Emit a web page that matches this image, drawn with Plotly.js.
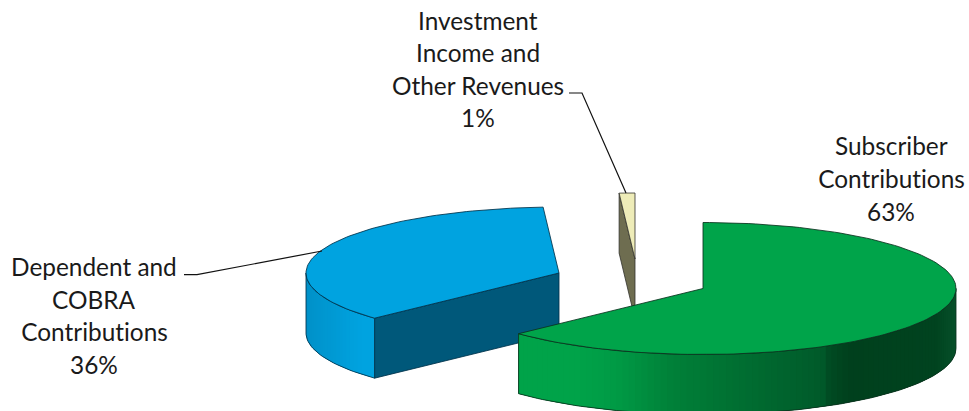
<!DOCTYPE html>
<html>
<head>
<meta charset="utf-8">
<script src="https://cdn.plot.ly/plotly-3.0.1.min.js"></script>
<style>html,body{margin:0;padding:0;background:#fff;overflow:hidden}#chart{width:969px;height:411px}
#chart text{font-variant-ligatures:none;font-feature-settings:"liga" 0}</style>
</head>
<body>
<div id="chart"></div>
<script>
// Revenue shares, clockwise from twelve o'clock
const categories = ['Subscriber Contributions', 'Dependent and COBRA Contributions', 'Investment Income and Other Revenues'];
const shares = [63, 36, 1];

// Wrapped label lines for each category
const labelLines = [
  ['Subscriber', 'Contributions'],
  ['Dependent and', 'COBRA', 'Contributions'],
  ['Investment', 'Income and', 'Other Revenues']
];

// Projected disc: radii of the ellipse and the height of the extruded wall
const RX = 253, RY = 66, DEPTH = 60;

// Where each exploded wedge is placed, and how it is painted
const wedgeStyle = [
  { cx: 703, cy: 288.5, top: '#00a44a', face: '#00522a', edge: 'rgba(10,50,30,0.85)',
    wall: [[-1, '#00a44a'], [-0.5, '#00a349'], [-0.34, '#009a45'], [-0.12, '#008038'], [0.12, '#007032'],
           [0.47, '#005a2a'], [0.5, '#004a22'], [0.58, '#00401d'], [0.92, '#00431f'], [1, '#07502a']] },
  { cx: 559, cy: 273, top: '#00a3e0', face: '#00587a', edge: 'rgba(0,50,75,0.85)',
    wall: [[-1, '#0091c8'], [-0.78, '#00a3e0'], [1, '#00a3e0']] },
  { cx: 635, cy: 259, top: '#eeecb8', face: '#6e6d50', edge: 'rgba(50,50,45,0.8)',
    wall: [[-1, '#eeecb8'], [1, '#6e6d50']] }
];

// Label placement and leader lines
const labelPlacement = [
  { x: 891, ys: [145, 178], pctY: 211, leader: null },
  { x: 94, ys: [266, 299, 331], pctY: 364, leader: [[184, 274.7], [197, 274.7], [322, 251]] },
  { x: 478, ys: [20, 52, 85], pctY: 117, leader: [[569, 93], [582, 93], [626, 193]] }
];
const LABEL_FONT = { family: 'Lato, sans-serif', size: 24.4, color: '#1a1a1a' };

const rad = d => d * Math.PI / 180;
const pt = (s, a, dz) => [s.cx + RX * Math.sin(rad(a)), s.cy - RY * Math.cos(rad(a)) + (dz || 0)];

function hex(c) { return [1, 3, 5].map(i => parseInt(c.substr(i, 2), 16)); }
function wallColor(stops, t) {
  for (let i = 1; i < stops.length; i++) {
    if (t <= stops[i][0]) {
      const f = (t - stops[i - 1][0]) / (stops[i][0] - stops[i - 1][0]);
      const a = hex(stops[i - 1][1]), b = hex(stops[i][1]);
      return 'rgb(' + a.map((v, k) => Math.round(v + (b[k] - v) * f)).join(',') + ')';
    }
  }
  return stops[stops.length - 1][1];
}
function poly(points, opts) {
  return Object.assign({
    x: points.map(p => p[0]), y: points.map(p => p[1]),
    type: 'scatter', mode: 'lines', hoverinfo: 'skip', showlegend: false
  }, opts);
}
function filled(points, color, lineColor, width) {
  return poly(points.concat([points[0]]), {
    fill: 'toself', fillcolor: color, line: { color: lineColor, width: width }
  });
}
function arc(s, a0, a1, dz) {
  const n = Math.max(2, Math.ceil(Math.abs(a1 - a0) / 1.5));
  const out = [];
  for (let i = 0; i <= n; i++) out.push(pt(s, a0 + (a1 - a0) * i / n, dz));
  return out;
}

// One wedge: visible cut face, shaded outer wall, then the top face
function wedgeTraces(s, a0, a1) {
  const traces = [];
  const apex = [s.cx, s.cy], apexLow = [s.cx, s.cy + DEPTH];
  if (Math.sin(rad(a0)) < -1e-6) {
    traces.push(filled([apex, pt(s, a0), pt(s, a0, DEPTH), apexLow], s.face, s.edge, 1));
  }
  const w0 = Math.max(a0, 90), w1 = Math.min(a1, 270);
  if (w1 > w0) {
    // Shading bands; each one runs under the next two so no seams show between them
    const n = Math.ceil((w1 - w0) / 1.5);
    const step = (w1 - w0) / n;
    for (let i = 0; i < n; i++) {
      const b0 = w0 + step * i;
      const end = Math.min(w1, b0 + step * 3);
      const c = wallColor(s.wall, Math.sin(rad(b0 + step / 2)));
      const lower = arc(s, b0, end, DEPTH).reverse();
      traces.push(filled(arc(s, b0, end, 0).concat(lower), c, c, 0));
    }
    const outline = arc(s, w0, w1, DEPTH).concat(arc(s, w1, w0, 0));
    traces.push(poly(outline.concat([outline[0]]), { line: { color: s.edge, width: 1 } }));
  }
  traces.push(filled([apex].concat(arc(s, a0, a1, 0)), s.top, s.edge, 1));
  return traces;
}

const total = shares.reduce((a, b) => a + b, 0);
let angle = 0;
const spans = shares.map(v => { const a = [angle, angle + v / total * 360]; angle = a[1]; return a; });

// Back-to-front paint order: the smallest wedge first, the largest last
const traces = [];
[2, 1, 0].forEach(i => traces.push(...wedgeTraces(wedgeStyle[i], spans[i][0], spans[i][1])));

const annotations = [];
labelPlacement.forEach((p, i) => {
  labelLines[i].forEach((line, k) => annotations.push({
    x: p.x, y: p.ys[k], text: line, showarrow: false, xanchor: 'center', yanchor: 'middle', font: LABEL_FONT
  }));
  annotations.push({
    x: p.x, y: p.pctY, text: shares[i] + '%', showarrow: false, xanchor: 'center', yanchor: 'middle', font: LABEL_FONT
  });
  if (p.leader) traces.push(poly(p.leader, { line: { color: '#111', width: 1.2 } }));
});

Plotly.newPlot('chart', traces, {
  width: 969, height: 411,
  margin: { l: 0, r: 0, t: 0, b: 0 },
  paper_bgcolor: '#fff', plot_bgcolor: '#fff',
  xaxis: { range: [0, 969], visible: false, fixedrange: true },
  yaxis: { range: [411, 0], visible: false, fixedrange: true },
  showlegend: false,
  annotations: annotations
}, { displayModeBar: false, staticPlot: true });
</script>
</body>
</html>
